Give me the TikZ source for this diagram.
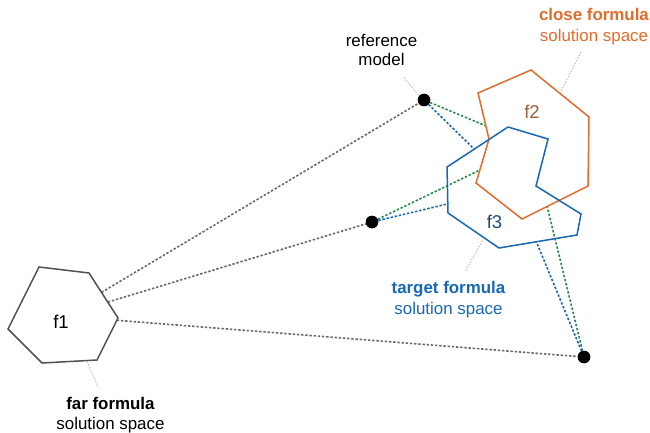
\documentclass[tikz,border=0pt]{standalone}
\usepackage{fontspec}
\setmainfont{Liberation Sans}

\definecolor{closeorange}{RGB}{226,108,44}
\definecolor{targetblue}{RGB}{24,104,180}
\definecolor{linkgreen}{RGB}{40,140,80}
\definecolor{farframe}{RGB}{80,80,86}
\definecolor{linkgray}{RGB}{105,105,110}
\definecolor{pointergray}{RGB}{185,185,188}
\definecolor{ftwo}{RGB}{160,95,60}
\definecolor{fthree}{RGB}{30,75,120}

\begin{document}
\begin{tikzpicture}[x=1pt,y=-1pt,
  polyline/.style={line width=1.5pt, line join=miter},
  dotlink/.style={line width=1.6pt, dash pattern=on 2.4pt off 1.8pt},
  pointer/.style={line width=0.9pt, pointergray, dash pattern=on 1.5pt off 1.5pt},
  spot/.style={circle, fill=black, inner sep=0pt, minimum size=12.5pt},
  lbl/.style={inner sep=0pt, anchor=base, font=\fontsize{16.9}{20}\selectfont},
  tag/.style={inner sep=0pt, font=\fontsize{18.5}{20}\selectfont}]

\useasboundingbox (0,0) rectangle (650,433);

% points where the dotted links meet the outlines
\coordinate (f1-ref) at (101.5,292.4);
\coordinate (f1-mid) at (107.8,302.1);
\coordinate (f1-low) at (116.8,320.3);
\coordinate (f2-ref) at (485.8,125.8);
\coordinate (f2-mid) at (479.8,170.1);
\coordinate (f2-low) at (547.1,206.4);
\coordinate (f3-ref) at (474.2,149.1);
\coordinate (f3-mid) at (447.6,203.9);
\coordinate (f3-low) at (536.3,241.8);

% the three sample points
\node[spot] (ref) at (424,100) {};
\node[spot] (mid) at (372,222) {};
\node[spot] (low) at (584,357) {};

% dotted links from the far space
\draw[dotlink, linkgray] (f1-ref) -- (ref);
\draw[dotlink, linkgray] (f1-mid) -- (mid);
\draw[dotlink, linkgray] (f1-low) -- (low);

% dotted links to the close space
\draw[dotlink, linkgreen] (ref) -- (f2-ref);
\draw[dotlink, linkgreen] (mid) -- (f2-mid);
\draw[dotlink, linkgreen] (low) -- (f2-low);

% dotted links to the target space
\draw[dotlink, targetblue] (ref) -- (f3-ref);
\draw[dotlink, targetblue] (mid) -- (f3-mid);
\draw[dotlink, targetblue] (low) -- (f3-low);

% solution space outlines
\draw[polyline, farframe] (39,267) -- (89,273) -- (118,318) -- (97,360)
  -- (42,363) -- (8,329) -- cycle;
\draw[polyline, closeorange] (478,93) -- (531,70) -- (589,117) -- (588,186)
  -- (522,219) -- (476,183) -- (489,139) -- cycle;
\draw[polyline, targetblue] (508,127) -- (548,139) -- (536,186) -- (581,214)
  -- (577,235) -- (499,248) -- (448,213) -- (447,167) -- cycle;

% redraw the spots on top of the links
\node[spot] at (ref) {};
\node[spot] at (mid) {};
\node[spot] at (low) {};

% formula tags
\node[tag] (f1) at (61,322) {f1};
\node[tag, ftwo] (f2) at (532,112) {f2};
\node[tag, fthree] (f3) at (494.5,222) {f3};

% captions
\node[lbl] (refa) at (381.5,46.5) {reference};
\node[lbl] (refb) at (381.5,66) {model};
\node[lbl, closeorange] (closea) at (594,21) {\textbf{close formula}};
\node[lbl, closeorange] (closeb) at (594,41.5) {solution space};
\node[lbl, targetblue] (targeta) at (448.5,293.5) {\textbf{target formula}};
\node[lbl, targetblue] (targetb) at (448.5,314) {solution space};
\node[lbl] (fara) at (110.5,409) {\textbf{far formula}};
\node[lbl] (farb) at (110.5,429) {solution space};

% caption pointers
\coordinate (refp) at (404,77.5);
\coordinate (closep) at (581,52);
\coordinate (targetp) at (465,272);
\coordinate (farp) at (98.3,387);
\draw[pointer] (refp) -- (418.5,95);
\draw[pointer] (closep) -- (560,93);
\draw[pointer] (484,238) -- (targetp);
\draw[pointer] (86.8,361.5) -- (farp);
\end{tikzpicture}
\end{document}
